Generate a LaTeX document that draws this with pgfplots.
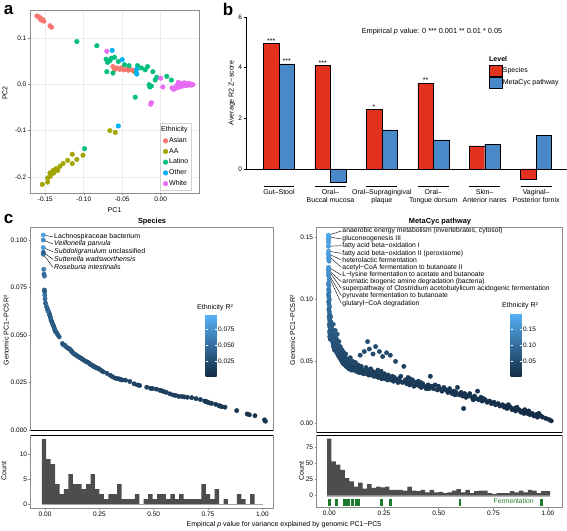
\documentclass[border=0pt]{standalone}
\usepackage{fontspec}
\setmainfont{Liberation Sans}
\usepackage{pgfplots}
\pgfplotsset{compat=1.18}
\usetikzlibrary{calc}
\definecolor{cAsian}{HTML}{F8766D}
\definecolor{cAA}{HTML}{A3A500}
\definecolor{cLat}{HTML}{00BF7D}
\definecolor{cOth}{HTML}{00B0F6}
\definecolor{cWhi}{HTML}{E76BF3}
\definecolor{barred}{HTML}{E3301F}
\definecolor{barblue}{HTML}{4A89C8}
\definecolor{histgray}{HTML}{4D4D4D}
\definecolor{framegray}{HTML}{8C8C8C}
\definecolor{gridgray}{HTML}{EBEBEB}
\definecolor{ferm}{HTML}{1E7B2E}
\newcommand{\tk}{\fontsize{6.5}{7}\selectfont}
\newcommand{\lb}{\fontsize{7}{8}\selectfont}
\pgfplotsset{
  /pgf/number format/assume math mode=true,
  gg/.style={scale only axis, axis line style={framegray,line width=0.6pt},
    tick style={framegray,line width=0.5pt}, tick align=outside, major tick length=2.2pt,
    tick label style={font=\tk, text=black, inner sep=1.3pt}, tick pos=left,
    scaled y ticks=false, scaled x ticks=false},
  ggcb/.style={colormap={gg}{rgb255=(19,43,67) rgb255=(86,177,247)}},
  sc/.style={scatter, only marks, mark=*, mark size=2.2pt,
    scatter/use mapped color={draw=mapped color, fill=mapped color}, point meta=explicit},
}
\begin{document}
\begin{tikzpicture}
\path[use as bounding box] (0,0) rectangle (567pt,530pt);

%================ panel a =================
\begin{axis}[gg, at={(30pt,337pt)}, anchor=south west, width=169pt, height=183pt,
  xmin=-0.170, xmax=0.050, ymin=-0.2345, ymax=0.160,
  xtick={-0.15,-0.1,-0.05,0}, ytick={-0.2,-0.1,0,0.1},
  xticklabel style={/pgf/number format/.cd,fixed,fixed zerofill,precision=2},
  yticklabel style={/pgf/number format/.cd,fixed,fixed zerofill,precision=1},
  grid=major, major grid style={gridgray,line width=0.6pt},
  legend style={at={(0.957,0.0126)}, anchor=south east, draw=gray!35, fill=white,
    font=\lb, row sep=1.6pt, inner xsep=2pt, inner ysep=2.2pt, nodes={inner sep=1.3pt}},
  legend cell align=left,
  legend image code/.code={\draw[#1] plot coordinates {(3pt,0pt)};},
]
\addlegendimage{empty legend}\addlegendentry{\hspace{-8pt}Ethnicity}
\addplot[only marks, mark=*, mark size=2.3pt, color=cAsian] coordinates {
(-0.161,0.147) (-0.158,0.145) (-0.157,0.143) (-0.154,0.140) (-0.152,0.136) (-0.157,0.141)
(-0.155,0.138) (-0.144,0.126) (-0.142,0.123)
(-0.062,0.038) (-0.057,0.035) (-0.053,0.032) (-0.048,0.031) (-0.042,0.030) (-0.038,0.031)
(-0.033,0.030) (-0.051,0.035) (-0.060,0.031) (-0.044,0.032) (-0.035,0.028)};
\addlegendentry{Asian}
\addplot[only marks, mark=*, mark size=2.3pt, color=cAA] coordinates {
(-0.066,-0.100) (-0.059,-0.104) (-0.115,-0.151) (-0.101,-0.153) (-0.109,-0.162) (-0.115,-0.171)
(-0.121,-0.164) (-0.127,-0.171) (-0.131,-0.177) (-0.136,-0.182) (-0.140,-0.186) (-0.144,-0.191)
(-0.139,-0.191) (-0.134,-0.186) (-0.144,-0.199) (-0.147,-0.202) (-0.147,-0.211) (-0.154,-0.216)
(-0.142,-0.194)};
\addlegendentry{AA}
\addplot[only marks, mark=*, mark size=2.3pt, color=cLat] coordinates {
(-0.109,0.092) (-0.083,0.083) (-0.071,0.054) (-0.069,0.047) (-0.064,0.056) (-0.060,0.058)
(-0.055,0.049) (-0.070,0.027) (-0.062,0.024) (-0.047,0.042) (-0.041,0.040) (-0.030,0.040)
(-0.025,0.035) (-0.020,0.031) (-0.032,0.025) (-0.017,0.038) (-0.010,0.027) (-0.005,0.015)
(-0.015,-0.001) (-0.014,-0.006) (-0.012,-0.004) (-0.033,-0.028) (0.008,0.017) (0.014,0.009)
(-0.099,-0.139) (-0.066,0.051) (-0.007,0.009)};
\addlegendentry{Latino}
\addplot[only marks, mark=*, mark size=2.3pt, color=cOth] coordinates {
(-0.063,0.073) (-0.050,0.053) (-0.031,0.032) (-0.031,0.022) (-0.055,-0.090)};
\addlegendentry{Other}
\addplot[only marks, mark=*, mark size=2.3pt, color=cWhi] coordinates {
(-0.070,0.071) (-0.013,-0.043) (-0.012,-0.040) (0.000,0.013) (0.003,-0.006) (0.017,-0.011)
(0.015,-0.008) (0.018,-0.010) (0.020,-0.005) (0.022,-0.002) (0.024,0.000) (0.026,0.002)
(0.028,0.001) (0.030,-0.001) (0.032,0.000) (0.034,-0.001) (0.036,-0.002) (0.038,-0.001)
(0.040,-0.002) (0.042,-0.001) (0.025,-0.006) (0.029,-0.004) (0.033,-0.003) (0.021,-0.008)
(0.027,-0.003) (0.031,0.003) (0.035,0.001) (0.023,0.004) (0.037,0.002) (0.039,0.000)};
\addlegendentry{White}
\end{axis}
\node[font=\lb] at (114.5pt,320pt) {PC1};
\node[font=\lb, rotate=90] at (5pt,437pt) {PC2};

%================ panel b =================
\begin{axis}[scale only axis, at={(246pt,361pt)}, anchor=south west, width=321pt, height=152pt,
  xmin=0.358, xmax=6.60, ymin=0, ymax=6,
  axis x line=none, axis y line*=left, axis line style={black,line width=0.6pt,-},
  ytick={0,2,4,6}, xtick=\empty, tick align=outside, major tick length=2.5pt,
  ytick style={black,line width=0.5pt}, tick label style={font=\tk, inner sep=1.3pt},
  ybar=0pt, bar width=15.5pt, clip=false,
  legend style={at={(0.7555,0.6875)}, anchor=north west, draw=none, fill=none,
    font=\lb, row sep=0.6pt, inner sep=0pt, nodes={inner sep=0.8pt}},
  legend cell align=left,
  legend image code/.code={\draw[#1] (0pt,-5.5pt) rectangle (13pt,5.5pt);},
]
\addplot[fill=barred, draw=black, line width=0.4pt] coordinates {(1,4.95) (2,4.08) (3,2.36) (4,3.39) (5,0.91) (6,-0.40)};
\addplot[fill=barblue, draw=black, line width=0.4pt] coordinates {(1,4.15) (2,-0.54) (3,1.54) (4,1.15) (5,0.98) (6,1.32)};
\legend{Species, MetaCyc pathway}
\draw[black,line width=0.6pt] (axis cs:0.358,0) -- (axis cs:6.60,0);
\draw[black,line width=0.5pt] (axis cs:0.7,-0.673) -- (axis cs:1.3,-0.673);
\draw[black,line width=0.5pt] (axis cs:1.7,-0.673) -- (axis cs:2.3,-0.673);
\draw[black,line width=0.5pt] (axis cs:2.7,-0.673) -- (axis cs:3.3,-0.673);
\draw[black,line width=0.5pt] (axis cs:3.7,-0.673) -- (axis cs:4.3,-0.673);
\draw[black,line width=0.5pt] (axis cs:4.7,-0.673) -- (axis cs:5.3,-0.673);
\draw[black,line width=0.5pt] (axis cs:5.7,-0.673) -- (axis cs:6.3,-0.673);
\node[anchor=south, font=\lb, inner sep=0pt] at (axis cs:0.849,4.95) {***};
\node[anchor=south, font=\lb, inner sep=0pt] at (axis cs:1.151,4.15) {***};
\node[anchor=south, font=\lb, inner sep=0pt] at (axis cs:1.849,4.08) {***};
\node[anchor=south, font=\lb, inner sep=0pt] at (axis cs:2.849,2.36) {*};
\node[anchor=south, font=\lb, inner sep=0pt] at (axis cs:3.849,3.39) {**};
\node[anchor=base, font=\lb, inner sep=0pt] at (axis cs:1,-1.01) {Gut–Stool};
\node[anchor=base, font=\lb, inner sep=0pt] at (axis cs:2,-1.01) {Oral–};
\node[anchor=base, font=\lb, inner sep=0pt] at (axis cs:2,-1.327) {Buccal mucosa};
\node[anchor=base, font=\lb, inner sep=0pt] at (axis cs:3,-1.01) {Oral–Supragingival};
\node[anchor=base, font=\lb, inner sep=0pt] at (axis cs:3,-1.327) {plaque};
\node[anchor=base, font=\lb, inner sep=0pt] at (axis cs:4,-1.01) {Oral–};
\node[anchor=base, font=\lb, inner sep=0pt] at (axis cs:4,-1.327) {Tongue dorsum};
\node[anchor=base, font=\lb, inner sep=0pt] at (axis cs:5,-1.01) {Skin–};
\node[anchor=base, font=\lb, inner sep=0pt] at (axis cs:5,-1.327) {Anterior nares};
\node[anchor=base, font=\lb, inner sep=0pt] at (axis cs:6,-1.01) {Vaginal–};
\node[anchor=base, font=\lb, inner sep=0pt] at (axis cs:6,-1.327) {Posterior fornix};
\end{axis}
\node[font=\lb, rotate=90] at (232pt,437pt) {Average R2 Z−score};
\node[font=\fontsize{7.3}{8}\selectfont] at (432pt,498pt) {Empirical \textit{p} value: 0 *** 0.001 ** 0.01 * 0.05};
\node[font=\bfseries\lb, anchor=west, inner sep=0pt] at (489pt,471pt) {Level};

%================ panel c : species scatter =================
\begin{axis}[gg, ggcb, at={(30.7pt,99.3pt)}, anchor=south west, width=242.3pt, height=203pt,
  xmin=-0.066, xmax=1.049, ymin=-0.0004, ymax=0.1065,
  xtick=\empty, ytick={0,0.025,0.05,0.075,0.1},
  yticklabel style={/pgf/number format/.cd,fixed,fixed zerofill,precision=3},
  point meta min=0.001, point meta max=0.097,
  colorbar, colorbar style={scale only axis, at={(parent axis.south west)}, anchor=south west,
    xshift=166.3pt, yshift=54pt, width=11pt, height=62pt,
    ytick={0.025,0.05,0.075}, yticklabel pos=right, ytick pos=both, scaled y ticks=false,
    yticklabel style={/pgf/number format/.cd,fixed,fixed zerofill,precision=3,/tikz/.cd,font=\tk,inner sep=1.5pt},
    axis line style={draw=none}, tick align=inside, major tick length=2pt,
    ytick style={white,line width=0.6pt}},
]
\addplot[sc] table[x=x,y=y,meta=c] {
x y c
1.014 0.0046 0.006
1.010 0.0053 0.006
0.966 0.0075 0.007
0.940 0.0080 0.008
0.930 0.0084 0.008
0.882 0.0102 0.009
0.828 0.0120 0.010
0.812 0.0123 0.009
0.806 0.0126 0.010
0.800 0.0128 0.011
0.785 0.0135 0.010
0.766 0.0140 0.012
0.758 0.0142 0.011
0.749 0.0146 0.010
0.745 0.0148 0.012
0.740 0.0150 0.013
0.735 0.0152 0.011
0.715 0.0160 0.012
0.695 0.0165 0.013
0.675 0.0170 0.012
0.655 0.0172 0.014
0.640 0.0174 0.013
0.630 0.0176 0.015
0.615 0.0177 0.013
0.600 0.0182 0.016
0.590 0.0184 0.014
0.575 0.0190 0.015
0.558 0.0198 0.014
0.548 0.0201 0.016
0.538 0.0206 0.017
0.528 0.0209 0.015
0.512 0.0215 0.017
0.495 0.0218 0.018
0.486 0.0219 0.016
0.468 0.0225 0.018
0.435 0.0234 0.017
0.425 0.0237 0.019
0.410 0.0243 0.018
0.390 0.0255 0.019
0.370 0.0262 0.020
0.354 0.0263 0.018
0.350 0.0265 0.021
0.345 0.0267 0.019
0.340 0.0269 0.022
0.330 0.0271 0.020
0.320 0.0274 0.022
0.309 0.0281 0.024
0.300 0.0288 0.021
0.285 0.0298 0.023
0.268 0.0306 0.022
0.260 0.0312 0.024
0.250 0.0320 0.026
0.244 0.0324 0.022
0.238 0.0327 0.025
0.231 0.0330 0.027
0.228 0.0332 0.024
0.225 0.0334 0.028
0.222 0.0337 0.026
0.218 0.0340 0.029
0.214 0.0342 0.025
0.209 0.0345 0.027
0.204 0.0350 0.030
0.199 0.0355 0.026
0.194 0.0358 0.028
0.187 0.0361 0.025
0.181 0.0366 0.030
0.175 0.0370 0.027
0.168 0.0376 0.028
0.163 0.0379 0.031
0.158 0.0383 0.026
0.153 0.0386 0.030
0.147 0.0390 0.029
0.142 0.0395 0.032
0.137 0.0398 0.027
0.132 0.0402 0.030
0.127 0.0408 0.035
0.124 0.0412 0.030
0.121 0.0416 0.034
0.118 0.0420 0.028
0.114 0.0425 0.033
0.111 0.0428 0.030
0.105 0.0430 0.036
0.098 0.0437 0.030
0.092 0.0445 0.032
0.085 0.0447 0.035
0.080 0.0455 0.030
0.065 0.0490 0.038
0.060 0.0500 0.033
0.055 0.0508 0.035
0.051 0.0515 0.030
0.047 0.0520 0.040
0.045 0.0528 0.032
0.043 0.0535 0.038
0.040 0.0545 0.035
0.037 0.0553 0.030
0.034 0.0560 0.040
0.031 0.0570 0.036
0.028 0.0578 0.032
0.026 0.0588 0.038
0.024 0.0595 0.045
0.022 0.0604 0.030
0.020 0.0610 0.040
0.018 0.0618 0.035
0.015 0.0626 0.045
0.012 0.0631 0.050
0.010 0.0640 0.038
0.007 0.0649 0.042
0.002 0.0668 0.040
0.000 0.0690 0.045
-0.001 0.0710 0.050
-0.002 0.0728 0.040
-0.003 0.0737 0.035
-0.003 0.0810 0.055
-0.005 0.0820 0.045
-0.006 0.0846 0.060
-0.008 0.0925 0.055
-0.008 0.0935 0.040
-0.008 0.0960 0.080
-0.008 0.1000 0.070
-0.008 0.1026 0.085
};
\draw[line width=0.4pt] (axis cs:-0.008,0.1026) -- (axis cs:0.037,0.1017);
\draw[line width=0.4pt] (axis cs:-0.008,0.1000) -- (axis cs:0.037,0.0979);
\draw[line width=0.4pt] (axis cs:-0.008,0.0960) -- (axis cs:0.037,0.0938);
\draw[line width=0.4pt] (axis cs:-0.008,0.0935) -- (axis cs:0.037,0.0898);
\draw[line width=0.4pt] (axis cs:-0.008,0.0925) -- (axis cs:0.037,0.0856);
\node[anchor=west, inner sep=0.3pt, font=\lb] at (axis cs:0.040,0.1017) {Lachnospiraceae bacterium};
\node[anchor=west, inner sep=0.3pt, font=\lb] at (axis cs:0.040,0.0979) {\itshape Veillonella parvula};
\node[anchor=west, inner sep=0.3pt, font=\lb] at (axis cs:0.040,0.0938) {\textit{Subdoligranulum} unclassified};
\node[anchor=west, inner sep=0.3pt, font=\lb] at (axis cs:0.040,0.0898) {\itshape Sutterella wadsworthensis};
\node[anchor=west, inner sep=0.3pt, font=\lb] at (axis cs:0.040,0.0856) {\itshape Roseburia intestinalis};
\end{axis}
\node[font=\lb, anchor=south west, inner sep=0pt] at (197pt,218.5pt) {Ethnicity R²};

%================ species histogram =================
\begin{axis}[gg, at={(30.7pt,22pt)}, anchor=south west, width=242.3pt, height=72.7pt,
  xmin=-0.066, xmax=1.049, ymin=-0.8, ymax=13.74,
  xtick={0,0.25,0.5,0.75,1}, ytick={0,5,10},
  xticklabel style={/pgf/number format/.cd,fixed,fixed zerofill,precision=2},
]
\addplot[gray!60, line width=0.4pt] coordinates {(-0.015,0) (1.005,0)};
\addplot[ybar interval, fill=histgray, draw=none] table {
x y
-0.015 13
0.0054 9
0.0258 8
0.0462 4
0.0666 2
0.0870 3
0.1074 6
0.1278 4
0.1482 4
0.1686 3
0.1890 4
0.2094 6
0.2298 3
0.2502 2
0.2706 1
0.2910 2
0.3114 2
0.3318 4
0.3522 1
0.3726 1
0.3930 1
0.4134 2
0.4338 0
0.4542 1
0.4746 2
0.4950 1
0.5154 2
0.5358 2
0.5562 1
0.5766 2
0.5970 1
0.6174 2
0.6378 1
0.6582 1
0.6786 1
0.6990 1
0.7194 4
0.7398 2
0.7602 1
0.7806 3
0.8010 0
0.8214 1
0.8418 0
0.8622 0
0.8826 2
0.9030 1
0.9234 0
0.9438 2
0.9642 0
0.9846 0
1.0050 0
};
\end{axis}
\draw[black,line width=0.8pt] (30.7pt,99.3pt) -- (273pt,99.3pt);
\draw[black,line width=0.8pt] (30.7pt,94.7pt) -- (273pt,94.7pt);

%================ MetaCyc scatter =================
\begin{axis}[gg, ggcb, at={(316.7pt,98pt)}, anchor=south west, width=245.3pt, height=204.3pt,
  xmin=-0.0576, xmax=1.064, ymin=-0.007, ymax=0.158,
  xtick=\empty, ytick={0,0.05,0.1,0.15},
  yticklabel style={/pgf/number format/.cd,fixed,fixed zerofill,precision=2},
  point meta min=0, point meta max=0.2,
  colorbar, colorbar style={scale only axis, at={(parent axis.south west)}, anchor=south west,
    xshift=185.3pt, yshift=55pt, width=11pt, height=64pt,
    ytick={0.05,0.1,0.15}, yticklabel pos=right, ytick pos=both, scaled y ticks=false,
    yticklabel style={/pgf/number format/.cd,fixed,fixed zerofill,precision=2,/tikz/.cd,font=\tk,inner sep=1.5pt},
    axis line style={draw=none}, tick align=inside, major tick length=2pt,
    ytick style={white,line width=0.6pt}},
]
\addplot[sc] table[x=x,y=y,meta=c] {
x y c
1.015 0.002 0.002
1.005 0.003 0.002
0.990 0.004 0.003
0.975 0.005 0.003
0.968 0.006 0.003
0.958 0.008 0.004
0.952 0.005 0.003
0.946 0.007 0.004
0.936 0.006 0.003
0.928 0.008 0.004
0.918 0.007 0.004
0.912 0.010 0.005
0.906 0.008 0.004
0.898 0.009 0.004
0.894 0.011 0.005
0.890 0.008 0.004
0.885 0.010 0.005
0.876 0.009 0.005
0.868 0.011 0.005
0.858 0.013 0.006
0.852 0.010 0.005
0.846 0.012 0.006
0.836 0.011 0.005
0.828 0.013 0.006
0.819 0.015 0.007
0.813 0.012 0.006
0.808 0.014 0.007
0.800 0.013 0.006
0.792 0.015 0.007
0.780 0.014 0.007
0.772 0.016 0.008
0.760 0.015 0.007
0.753 0.017 0.008
0.741 0.016 0.008
0.733 0.018 0.009
0.721 0.017 0.008
0.713 0.019 0.009
0.704 0.020 0.010
0.699 0.018 0.009
0.693 0.021 0.010
0.684 0.019 0.009
0.678 0.026 0.015
0.672 0.020 0.010
0.664 0.022 0.011
0.658 0.019 0.009
0.652 0.021 0.010
0.642 0.024 0.013
0.634 0.022 0.011
0.625 0.021 0.011
0.619 0.024 0.013
0.614 0.012 0.010
0.610 0.022 0.011
0.603 0.025 0.014
0.594 0.023 0.012
0.586 0.029 0.018
0.580 0.025 0.014
0.575 0.023 0.012
0.570 0.026 0.015
0.562 0.024 0.013
0.556 0.025 0.014
0.550 0.028 0.017
0.542 0.025 0.014
0.534 0.027 0.016
0.524 0.029 0.018
0.515 0.026 0.015
0.505 0.028 0.017
0.499 0.030 0.019
0.494 0.027 0.016
0.484 0.031 0.020
0.476 0.028 0.017
0.468 0.030 0.019
0.462 0.038 0.027
0.456 0.028 0.017
0.452 0.031 0.020
0.443 0.028 0.017
0.435 0.030 0.019
0.427 0.032 0.021
0.421 0.029 0.018
0.417 0.033 0.022
0.413 0.030 0.019
0.407 0.034 0.023
0.401 0.031 0.020
0.395 0.033 0.022
0.387 0.030 0.019
0.381 0.035 0.024
0.375 0.032 0.021
0.369 0.036 0.025
0.367 0.031 0.020
0.364 0.033 0.022
0.360 0.037 0.026
0.357 0.035 0.024
0.354 0.032 0.021
0.347 0.035 0.024
0.341 0.046 0.036
0.335 0.033 0.022
0.327 0.038 0.027
0.323 0.034 0.023
0.318 0.036 0.025
0.314 0.033 0.022
0.308 0.035 0.024
0.303 0.050 0.040
0.298 0.037 0.026
0.294 0.034 0.023
0.288 0.038 0.027
0.283 0.035 0.024
0.279 0.055 0.044
0.274 0.037 0.026
0.269 0.039 0.028
0.266 0.035 0.024
0.262 0.057 0.046
0.259 0.038 0.027
0.255 0.036 0.025
0.252 0.040 0.029
0.248 0.038 0.027
0.244 0.054 0.044
0.240 0.036 0.025
0.237 0.042 0.031
0.233 0.039 0.028
0.229 0.058 0.047
0.225 0.037 0.026
0.222 0.043 0.032
0.218 0.040 0.029
0.215 0.038 0.027
0.212 0.062 0.050
0.208 0.041 0.030
0.204 0.038 0.027
0.200 0.056 0.046
0.197 0.042 0.031
0.193 0.039 0.028
0.189 0.044 0.033
0.186 0.041 0.030
0.183 0.060 0.050
0.180 0.039 0.028
0.177 0.043 0.032
0.175 0.066 0.052
0.172 0.040 0.029
0.168 0.045 0.034
0.164 0.042 0.031
0.160 0.058 0.048
0.156 0.040 0.029
0.152 0.043 0.032
0.148 0.041 0.030
0.146 0.046 0.035
0.143 0.042 0.031
0.141 0.055 0.045
0.139 0.044 0.034
0.136 0.041 0.030
0.133 0.047 0.037
0.131 0.042 0.031
0.127 0.045 0.035
0.124 0.042 0.032
0.120 0.049 0.039
0.117 0.044 0.034
0.113 0.046 0.036
0.110 0.043 0.033
0.107 0.050 0.040
0.105 0.044 0.034
0.103 0.046 0.036
0.101 0.043 0.033
0.099 0.047 0.037
0.097 0.044 0.034
0.096 0.053 0.044
0.094 0.045 0.035
0.092 0.049 0.040
0.090 0.044 0.034
0.089 0.047 0.037
0.087 0.050 0.041
0.085 0.045 0.035
0.083 0.048 0.039
0.082 0.046 0.036
0.080 0.052 0.043
0.078 0.049 0.040
0.077 0.046 0.036
0.075 0.056 0.047
0.074 0.050 0.041
0.072 0.047 0.037
0.071 0.054 0.045
0.069 0.048 0.038
0.068 0.051 0.042
0.066 0.057 0.048
0.065 0.048 0.038
0.063 0.052 0.043
0.062 0.055 0.046
0.061 0.049 0.039
0.060 0.053 0.044
0.059 0.059 0.051
0.058 0.050 0.040
0.057 0.056 0.047
0.056 0.054 0.045
0.055 0.051 0.041
0.054 0.060 0.053
0.053 0.057 0.048
0.052 0.052 0.042
0.051 0.055 0.046
0.050 0.062 0.055
0.049 0.058 0.050
0.048 0.053 0.043
0.046 0.056 0.047
0.045 0.059 0.052
0.044 0.054 0.044
0.044 0.066 0.060
0.043 0.057 0.049
0.042 0.061 0.054
0.041 0.055 0.045
0.040 0.058 0.050
0.039 0.063 0.055
0.038 0.056 0.046
0.037 0.060 0.052
0.036 0.065 0.058
0.036 0.072 0.066
0.035 0.057 0.048
0.034 0.061 0.055
0.033 0.068 0.062
0.032 0.058 0.050
0.031 0.063 0.056
0.030 0.071 0.065
0.029 0.059 0.052
0.028 0.066 0.060
0.027 0.075 0.070
0.025 0.059 0.050
0.024 0.0595 0.056
0.024 0.066 0.058
0.023 0.060 0.052
0.022 0.061 0.058
0.021 0.0615 0.055
0.020 0.062 0.060
0.020 0.068 0.062
0.019 0.063 0.056
0.018 0.064 0.062
0.018 0.080 0.075
0.017 0.065 0.058
0.016 0.066 0.064
0.016 0.072 0.066
0.015 0.067 0.060
0.014 0.068 0.066
0.013 0.070 0.062
0.012 0.071 0.070
0.012 0.076 0.072
0.011 0.073 0.065
0.010 0.075 0.068
0.009 0.077 0.072
0.008 0.079 0.070
0.007 0.082 0.075
0.006 0.086 0.080
0.004 0.068 0.060
0.002 0.070 0.070
0.003 0.072 0.065
0.001 0.074 0.075
0.004 0.076 0.070
0.002 0.078 0.080
0.000 0.080 0.075
0.003 0.082 0.085
0.001 0.084 0.080
-0.001 0.086 0.090
0.002 0.088 0.085
0.000 0.090 0.100
-0.002 0.092 0.090
0.001 0.094 0.095
-0.001 0.096 0.110
-0.003 0.098 0.100
0.000 0.100 0.105
-0.002 0.102 0.115
-0.004 0.104 0.110
-0.001 0.106 0.125
-0.003 0.108 0.120
-0.002 0.111 0.135
-0.004 0.113 0.130
-0.001 0.116 0.140
-0.003 0.119 0.145
-0.004 0.121 0.150
-0.002 0.123 0.155
-0.005 0.124 0.150
-0.003 0.126 0.160
-0.001 0.131 0.155
-0.004 0.133 0.165
-0.002 0.135 0.160
-0.005 0.137 0.165
-0.003 0.139 0.170
-0.004 0.143 0.165
-0.004 0.146 0.175
-0.003 0.148 0.170
-0.005 0.149 0.175
-0.002 0.1505 0.180
-0.004 0.152 0.185
};
\draw[line width=0.4pt] (axis cs:-0.004,0.152) -- (axis cs:0.055,0.1553);
\draw[line width=0.4pt] (axis cs:-0.002,0.1505) -- (axis cs:0.055,0.1489);
\draw[line width=0.4pt] (axis cs:-0.004,0.143) -- (axis cs:0.055,0.1435);
\draw[line width=0.4pt] (axis cs:-0.003,0.139) -- (axis cs:0.055,0.1373);
\draw[line width=0.4pt] (axis cs:-0.005,0.137) -- (axis cs:0.055,0.1319);
\draw[line width=0.4pt] (axis cs:-0.002,0.135) -- (axis cs:0.055,0.1260);
\draw[line width=0.4pt] (axis cs:-0.003,0.126) -- (axis cs:0.055,0.1198);
\draw[line width=0.4pt] (axis cs:-0.005,0.124) -- (axis cs:0.055,0.1144);
\draw[line width=0.4pt] (axis cs:-0.002,0.123) -- (axis cs:0.055,0.1090);
\draw[line width=0.4pt] (axis cs:-0.004,0.121) -- (axis cs:0.055,0.1031);
\draw[line width=0.4pt] (axis cs:-0.003,0.119) -- (axis cs:0.055,0.0969);
\node[anchor=west, inner sep=0.3pt, font=\fontsize{6.8}{7}\selectfont] at (axis cs:0.058,0.1553) {anaerobic energy metabolism (invertebrates, cytosol)};
\node[anchor=west, inner sep=0.3pt, font=\fontsize{6.8}{7}\selectfont] at (axis cs:0.058,0.1489) {gluconeogenesis III};
\node[anchor=west, inner sep=0.3pt, font=\fontsize{6.8}{7}\selectfont] at (axis cs:0.058,0.1435) {fatty acid beta−oxidation I};
\node[anchor=west, inner sep=0.3pt, font=\fontsize{6.8}{7}\selectfont] at (axis cs:0.058,0.1373) {fatty acid beta−oxidation II (peroxisome)};
\node[anchor=west, inner sep=0.3pt, font=\fontsize{6.8}{7}\selectfont] at (axis cs:0.058,0.1319) {heterolactic fermentation};
\node[anchor=west, inner sep=0.3pt, font=\fontsize{6.8}{7}\selectfont] at (axis cs:0.058,0.1260) {acetyl−CoA fermentation to butanoate II};
\node[anchor=west, inner sep=0.3pt, font=\fontsize{6.8}{7}\selectfont] at (axis cs:0.058,0.1198) {L−lysine fermentation to acetate and butanoate};
\node[anchor=west, inner sep=0.3pt, font=\fontsize{6.8}{7}\selectfont] at (axis cs:0.058,0.1144) {aromatic biogenic amine degradation (bacteria)};
\node[anchor=west, inner sep=0.3pt, font=\fontsize{6.8}{7}\selectfont] at (axis cs:0.058,0.1090) {superpathway of Clostridium acetobutylicum acidogenic fermentation};
\node[anchor=west, inner sep=0.3pt, font=\fontsize{6.8}{7}\selectfont] at (axis cs:0.058,0.1031) {pyruvate fermentation to butanoate};
\node[anchor=west, inner sep=0.3pt, font=\fontsize{6.8}{7}\selectfont] at (axis cs:0.058,0.0969) {glutaryl−CoA degradation};
\end{axis}
\node[font=\lb, anchor=south west, inner sep=0pt] at (502pt,220.5pt) {Ethnicity R²};

%================ MetaCyc histogram =================
\begin{axis}[gg, at={(316.7pt,22.7pt)}, anchor=south west, width=245.3pt, height=72pt,
  xmin=-0.0576, xmax=1.064, ymin=-17.9, ymax=93.2,
  xtick={0,0.25,0.5,0.75,1}, ytick={0,25,50,75},
  xticklabel style={/pgf/number format/.cd,fixed,fixed zerofill,precision=2},
]
\addplot[gray!60, line width=0.4pt] coordinates {(-0.0105,0) (1.0095,0)};
\addplot[ybar interval, fill=histgray, draw=none] table {
x y
-0.0105 88
0.0099 53
0.0303 48
0.0507 40
0.0711 27
0.0915 22
0.1119 14
0.1323 20
0.1527 11
0.1731 18
0.1935 12
0.2139 14
0.2343 13
0.2547 14
0.2751 9
0.2955 9
0.3159 9
0.3363 8
0.3567 14
0.3771 8
0.3975 7
0.4179 9
0.4383 5
0.4587 9
0.4791 5
0.4995 6
0.5199 4
0.5403 5
0.5607 8
0.5811 10
0.6015 5
0.6219 9
0.6423 4
0.6627 7
0.6831 8
0.7035 8
0.7239 4
0.7443 3
0.7647 4
0.7851 4
0.8055 4
0.8259 7
0.8463 5
0.8667 8
0.8871 5
0.9075 9
0.9279 8
0.9483 4
0.9687 7
0.9891 7
1.0095 7
};
\addplot[only marks, mark=|, mark size=3.7pt, mark options={ferm, line width=2.6pt}] coordinates {
(0.0017,-10.3) (0.0337,-10.3) (0.0672,-10.3) (0.0779,-10.3) (0.0870,-10.3) (0.1053,-10.3)
(0.1251,-10.3) (0.1358,-10.3) (0.2395,-10.3) (0.2806,-10.3) (0.5976,-10.3) (0.9710,-10.3)};
\node[font=\fontsize{6.8}{7}\selectfont, text=ferm] at (axis cs:0.843,-7.7) {Fermentation};
\end{axis}
\draw[black,line width=0.8pt] (316.7pt,98pt) -- (562pt,98pt);
\draw[black,line width=0.8pt] (316.7pt,94.7pt) -- (562pt,94.7pt);

%================ labels =================
\node[font=\lb, rotate=90] at (6pt,200pt) {Genomic PC1−PC5 R²};
\node[font=\lb, rotate=90] at (292.5pt,200pt) {Genomic PC1−PC5 R²};
\node[font=\lb, rotate=90] at (4pt,59pt) {Count};
\node[font=\lb, rotate=90] at (301.5pt,59pt) {Count};
\node[font=\lb] at (284pt,5.5pt) {Empirical \textit{p} value for variance explained by genomic PC1−PC5};
\node[font=\bfseries\fontsize{7.4}{8}\selectfont] at (152pt,308.5pt) {Species};
\node[font=\bfseries\fontsize{7.4}{8}\selectfont] at (440pt,308.5pt) {MetaCyc pathway};
\node[font=\bfseries\fontsize{17}{18}\selectfont] at (8.5pt,520pt) {a};
\node[font=\bfseries\fontsize{17}{18}\selectfont] at (228pt,521pt) {b};
\node[font=\bfseries\fontsize{17}{18}\selectfont] at (8.5pt,311pt) {c};
\end{tikzpicture}
\end{document}
